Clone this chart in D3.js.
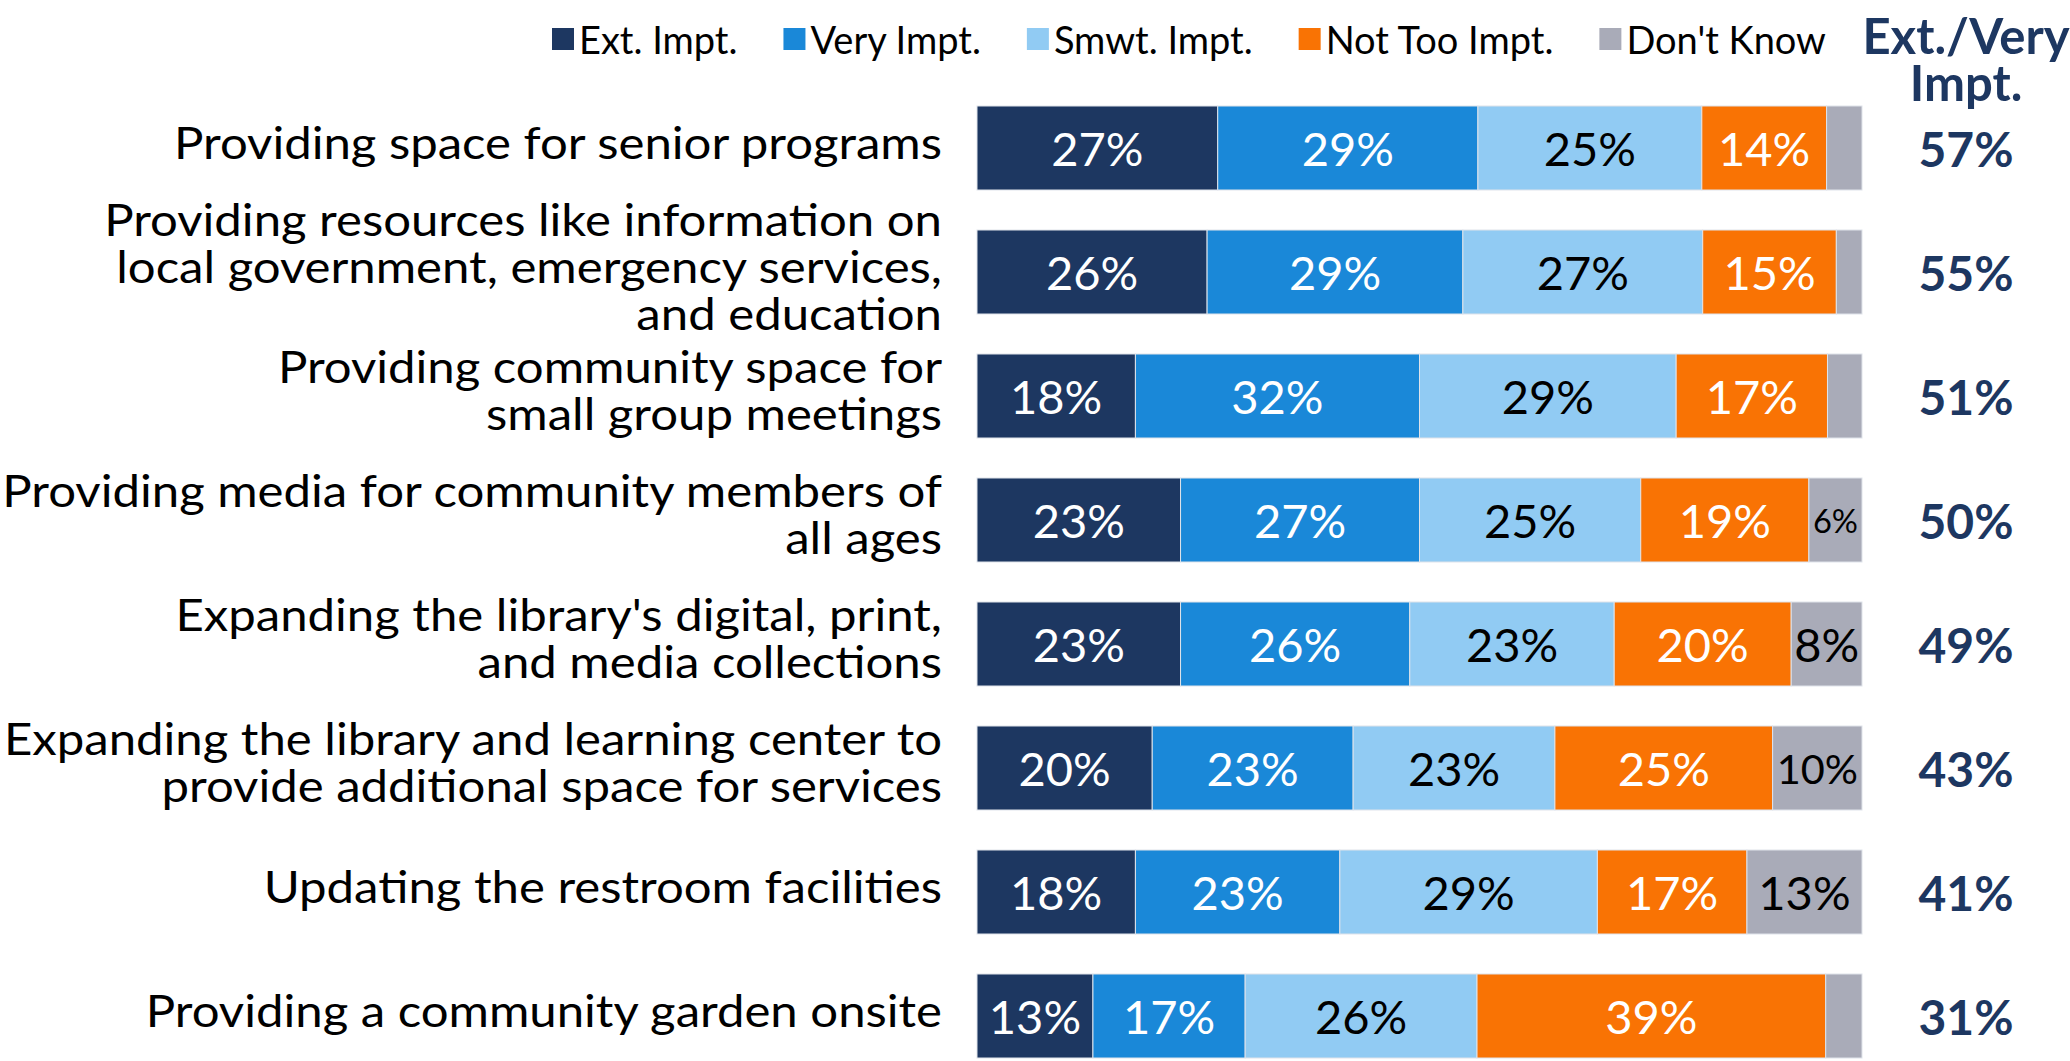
<!DOCTYPE html>
<html>
<head>
<meta charset="utf-8">
<script src="https://cdn.jsdelivr.net/npm/d3@7"></script>
<style>
  html, body { margin: 0; padding: 0; background: #ffffff; }
  svg { display: block; }
  text { font-family: Lato, "Open Sans", sans-serif; }
</style>
</head>
<body>
<svg id="chart" width="2070" height="1061"></svg>
<script>
// ---------- data ----------
const categories = [
  "Providing space for senior programs",
  "Providing resources like information on\nlocal government, emergency services,\nand education",
  "Providing community space for\nsmall group meetings",
  "Providing media for community members of\nall ages",
  "Expanding the library's digital, print,\nand media collections",
  "Expanding the library and learning center to\nprovide additional space for services",
  "Updating the restroom facilities",
  "Providing a community garden onsite"
];
const seriesNames = ["Ext. Impt.", "Very Impt.", "Smwt. Impt.", "Not Too Impt.", "Don't Know"];
const extImpt   = [27.2, 26.0, 17.9, 23.0, 23.0, 19.8, 17.9, 13.1];
const veryImpt  = [29.4, 28.9, 32.1, 27.0, 25.9, 22.7, 23.1, 17.2];
const smwtImpt  = [25.3, 27.1, 29.0, 25.0, 23.1, 22.8, 29.1, 26.2];
const notTooImpt= [14.1, 15.1, 17.1, 19.0, 20.0, 24.6, 16.9, 39.4];
const dontKnow  = [ 4.0,  2.9,  3.9,  6.0,  8.0, 10.1, 13.0,  4.1];
const extVeryImpt = [57, 55, 51, 50, 49, 43, 41, 31];
const netHeader = ["Ext./Very", "Impt."];

// ---------- style ----------
const colors = ["#1d3761", "#1a88d8", "#91cbf3", "#f97304", "#a9abb8"];
const labelColors = ["#ffffff", "#ffffff", "#000000", "#ffffff", "#000000"];
const navy = "#1d3761";

const svg = d3.select("#chart");
const series = [extImpt, veryImpt, smwtImpt, notTooImpt, dontKnow];

const rows = categories.map((c, i) => {
  const r = { cat: c };
  seriesNames.forEach((s, k) => r[s] = series[k][i]);
  return r;
});
const stacked = d3.stack().keys(seriesNames)(rows);

const x = d3.scaleLinear().domain([0, 100]).range([977, 1862]);
const y = d3.scaleBand().domain(categories).range([86, 1078]).paddingInner(0.3226).paddingOuter(0.1613);

// bars
const layers = svg.append("g").selectAll("g").data(stacked).join("g")
  .attr("fill", (d, k) => colors[k]);

layers.selectAll("rect").data(d => d.map(p => ({p, key: d.key})))
  .join("rect")
  .attr("x", d => x(d.p[0]))
  .attr("y", d => y(d.p.data.cat))
  .attr("width", d => x(d.p[1]) - x(d.p[0]))
  .attr("height", y.bandwidth())
  .attr("stroke", "#dfe3ea")
  .attr("stroke-width", 1);

// bar labels
const baseSize = 47;
stacked.forEach((layer, k) => {
  layer.forEach(p => {
    const v = p[1] - p[0];
    const lab = Math.round(v);
    if (lab < 5) return;
    const cx = (x(p[0]) + x(p[1])) / 2;
    const cy = y(p.data.cat) + y.bandwidth() / 2;
    const t = svg.append("text")
      .attr("x", cx).attr("y", cy)
      .attr("text-anchor", "middle")
      .attr("dominant-baseline", "central")
      .attr("fill", labelColors[k])
      .style("font-size", baseSize + "px")
      .text(lab + "%");
    const segW = x(p[1]) - x(p[0]);
    const w = t.node().getComputedTextLength();
    if (w > segW - 4) {
      t.style("font-size", (baseSize * (segW - 8) / w) + "px");
    }
  });
});

// category labels (right-aligned, horizontally stretched to fit the label column)
const catSize = 44, lineH = 47, labelRight = 942, labelColumnWidth = 940;
const catTexts = [];
categories.forEach(c => {
  const lines = c.split("\n");
  const cy = y(c) + y.bandwidth() / 2 - 6;
  const t = svg.append("text")
    .attr("text-anchor", "end")
    .attr("fill", "#000")
    .style("font-size", catSize + "px");
  lines.forEach((ln, j) => {
    t.append("tspan")
      .attr("x", 0)
      .attr("y", cy + (j - (lines.length - 1) / 2) * lineH)
      .attr("dominant-baseline", "central")
      .text(ln);
  });
  catTexts.push(t);
});
let maxW = 0;
catTexts.forEach(t => t.selectAll("tspan").each(function() {
  maxW = Math.max(maxW, this.getComputedTextLength());
}));
const kx = labelColumnWidth / maxW;
catTexts.forEach(t => t.attr("transform", `translate(${labelRight},0) scale(${kx},1)`));

// net column
const netX = 1966;
svg.append("g").selectAll("text").data(netHeader).join("text")
  .attr("x", netX).attr("y", (d, j) => 35 + j * 47)
  .attr("text-anchor", "middle").attr("dominant-baseline", "central")
  .attr("fill", navy).style("font-size", "49px").style("font-weight", "bold")
  .text(d => d);

svg.append("g").selectAll("text").data(extVeryImpt).join("text")
  .attr("x", netX)
  .attr("y", (d, i) => y(categories[i]) + y.bandwidth() / 2)
  .attr("text-anchor", "middle").attr("dominant-baseline", "central")
  .attr("fill", navy).style("font-size", "48px").style("font-weight", "bold")
  .text(d => d + "%");

// legend
const legend = svg.append("g");
let lx = 552;
const sq = 22, legY = 39;
seriesNames.forEach((s, k) => {
  legend.append("rect").attr("x", lx).attr("y", legY - sq / 2).attr("width", sq).attr("height", sq).attr("fill", colors[k]);
  const t = legend.append("text").attr("x", lx + sq + 5).attr("y", legY)
    .attr("dominant-baseline", "central").attr("fill", "#000")
    .style("font-size", "38px").text(s);
  lx = lx + sq + 5 + t.node().getComputedTextLength() + 46;
});
</script>
</body>
</html>
